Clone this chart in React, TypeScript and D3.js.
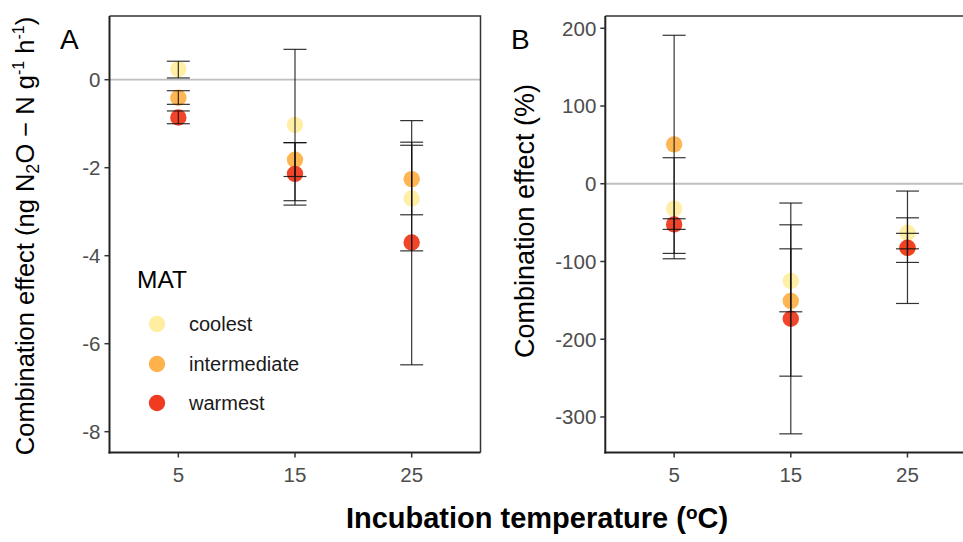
import React from "react";
import * as d3 from "d3";

const temps = ["5", "15", "25"];
const groups = ["coolest", "intermediate", "warmest"];
const colors = ["#FFEDA0", "#FEB24C", "#F03B20"];

// Panel A: absolute effect (ng N2O-N g-1 h-1)
const aMean = [
  [0.24, -1.03, -2.7],
  [-0.41, -1.82, -2.26],
  [-0.86, -2.14, -3.7],
];
const aLow = [
  [0.04, -2.75, -3.89],
  [-0.56, -2.2, -3.07],
  [-1.0, -2.85, -6.48],
];
const aHigh = [
  [0.42, 0.69, -1.49],
  [-0.25, -1.43, -1.42],
  [-0.71, -1.43, -0.93],
];
const aTicks = [0, -2, -4, -6, -8];

// Panel B: relative effect (%)
const bMean = [
  [-32, -125, -63],
  [50.7, -150.6, -82.5],
  [-52.3, -173.7, -82.4],
];
const bLow = [
  [-96.5, -164.7, -83.7],
  [-89.6, -247.5, -101.2],
  [-58.7, -321.7, -154],
];
const bHigh = [
  [33.5, -83.7, -43.8],
  [191, -52.8, -63.8],
  [-45, -24.8, -9.4],
];
const bTicks = [200, 100, 0, -100, -200, -300];

const FONT = "'Liberation Sans', Arial, Helvetica, sans-serif";
const TICK_COLOR = "#4D4D4D";
const TOP = 16;
const BOTTOM = 452.5;
const PANEL_W = 371;
const TICK_SIZE = 20.5;

function Panel({ left, yDomain, ticks, mean, low, high, border }) {
  const right = left + PANEL_W;
  const x = d3.scalePoint().domain(temps).range([left, right]).padding(0.59);
  const y = d3.scaleLinear().domain(yDomain).range([BOTTOM, TOP]);
  const cap = 11.5;
  return (
    <g>
      {/* zero reference line */}
      <line x1={left} x2={right} y1={y(0)} y2={y(0)} stroke="#BEBEBE" strokeWidth={1.8} />
      {/* points */}
      {groups.map((g, gi) =>
        temps.map((t, ti) => (
          <circle
            key={g + t}
            cx={x(t)}
            cy={y(mean[gi][ti])}
            r={8.2}
            fill={colors[gi]}
            fillOpacity={0.95}
          />
        ))
      )}
      {/* error bars */}
      {groups.map((g, gi) =>
        temps.map((t, ti) => (
          <g key={"e" + g + t} stroke="#111" strokeWidth={1.2} strokeOpacity={0.85}>
            <line x1={x(t)} x2={x(t)} y1={y(low[gi][ti])} y2={y(high[gi][ti])} />
            <line x1={x(t) - cap} x2={x(t) + cap} y1={y(low[gi][ti])} y2={y(low[gi][ti])} />
            <line x1={x(t) - cap} x2={x(t) + cap} y1={y(high[gi][ti])} y2={y(high[gi][ti])} />
          </g>
        ))
      )}
      {/* border top/right */}
      {border && (
        <path d={`M${left},${TOP} H${right} V${BOTTOM}`} fill="none" stroke="#333" strokeWidth={1.5} />
      )}
      {!border && <line x1={left} x2={right} y1={TOP} y2={TOP} stroke="#333" strokeWidth={1.5} />}
      {/* axes */}
      <line x1={left} x2={left} y1={TOP} y2={BOTTOM + 1} stroke="#222" strokeWidth={2} />
      <line x1={left - 1} x2={right} y1={BOTTOM} y2={BOTTOM} stroke="#222" strokeWidth={2} />
      {ticks.map((v) => (
        <g key={v}>
          <line x1={left - 5} x2={left} y1={y(v)} y2={y(v)} stroke="#333" strokeWidth={1.5} />
          <text
            x={left - 9}
            y={y(v)}
            dy="0.36em"
            textAnchor="end"
            fontSize={TICK_SIZE}
            fill={TICK_COLOR}
            fontFamily={FONT}
          >
            {v}
          </text>
        </g>
      ))}
      {temps.map((t) => (
        <g key={t}>
          <line x1={x(t)} x2={x(t)} y1={BOTTOM} y2={BOTTOM + 5} stroke="#333" strokeWidth={1.5} />
          <text x={x(t)} y={482} textAnchor="middle" fontSize={TICK_SIZE} fill={TICK_COLOR} fontFamily={FONT}>
            {t}
          </text>
        </g>
      ))}
    </g>
  );
}

export default function App() {
  const legendY = [324, 364, 403];
  return (
    <svg
      width={963}
      height={542}
      style={{ position: "absolute", left: 0, top: 0, background: "#fff" }}
      fontFamily={FONT}
    >
      <rect width={963} height={542} fill="#fff" />
      <Panel left={109.5} yDomain={[-8.473, 1.448]} ticks={aTicks} mean={aMean} low={aLow} high={aHigh} border />
      <Panel left={605.3} yDomain={[-345.7, 215.8]} ticks={bTicks} mean={bMean} low={bLow} high={bHigh} border={false} />

      {/* panel letters */}
      <text x={60} y={49} fontSize={28} fill="#000">A</text>
      <text x={511} y={49} fontSize={28} fill="#000">B</text>

      {/* legend */}
      <text x={137} y={288} fontSize={24.5} fill="#000">MAT</text>
      {groups.map((g, i) => (
        <g key={g}>
          <circle cx={157} cy={legendY[i]} r={8.2} fill={colors[i]} />
          <text x={189} y={legendY[i]} dy="0.35em" fontSize={20} fill="#1a1a1a">
            {g}
          </text>
        </g>
      ))}

      {/* y titles */}
      <text transform="translate(34,236) rotate(-90)" textAnchor="middle" fontSize={25.5} fill="#000">
        Combination effect (ng N
        <tspan fontSize={18} dy={5}>2</tspan>
        <tspan dy={-5}>O − N g</tspan>
        <tspan fontSize={16} dy={-10}>-1</tspan>
        <tspan dy={10}> h</tspan>
        <tspan fontSize={16} dy={-10}>-1</tspan>
        <tspan dy={10}>)</tspan>
      </text>
      <text transform="translate(534,221) rotate(-90)" textAnchor="middle" fontSize={27} fill="#000">
        Combination effect (%)
      </text>

      {/* x title */}
      <text x={537} y={528} textAnchor="middle" fontSize={29} fontWeight="bold" fill="#000">
        Incubation temperature (
        <tspan fontSize={19} dy={-9}>o</tspan>
        <tspan dy={9}>C)</tspan>
      </text>
    </svg>
  );
}
